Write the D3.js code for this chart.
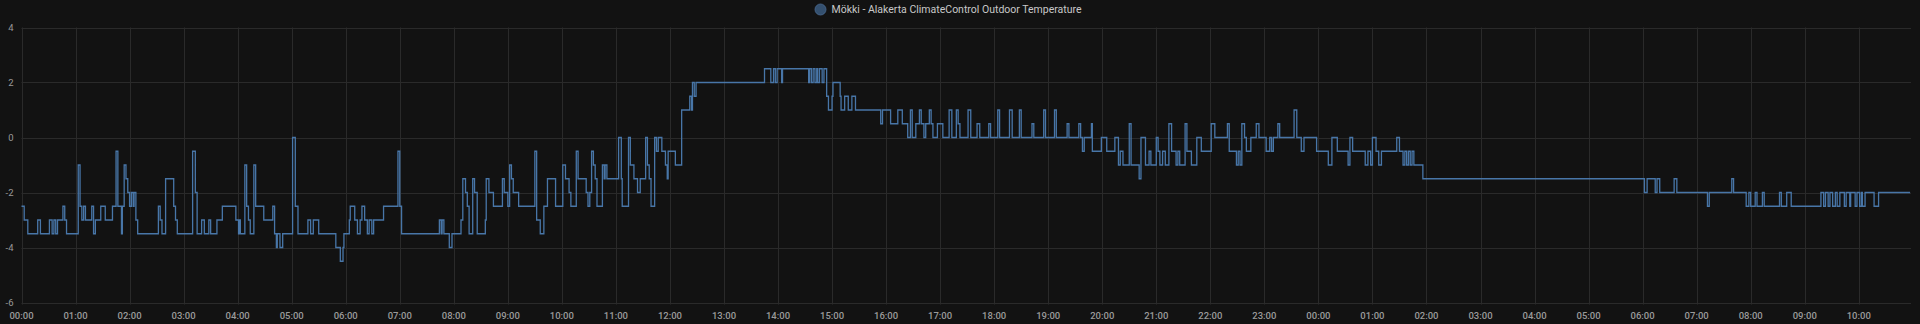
<!DOCTYPE html>
<html>
<head>
<meta charset="utf-8">
<script src="https://cdn.jsdelivr.net/npm/d3@7"></script>
<style>
  html, body { margin: 0; padding: 0; background: #121212; }
  svg { display: block; }
</style>
</head>
<body>
<svg id="chart" width="1920" height="324"></svg>
<script>
// Series title
const seriesName = "Mökki - Alakerta ClimateControl Outdoor Temperature";

// Breakpoints: minutes since 00:00 of the first day, and the temperature (°C) from that moment on
const minutes = [
  0,3,7,18,21,31,34,36,38,40,46,48,50,63,65,67,69,71,78,80,82,88,93,101,105,107,111,112,114,116,118,120,122,124,125,127,129,
  152,154,156,160,169,171,173,190,193,195,200,203,208,210,217,223,238,241,242,243,248,250,252,254,258,260,269,279,281,283,284,287,290,
  301,304,307,318,321,324,330,349,354,357,358,364,365,370,373,376,378,381,384,386,389,391,402,
  418,420,422,464,466,467,469,475,478,488,490,493,495,497,501,503,506,515,516,519,524,534,536,540,542,544,546,552,570,572,576,580,584,
  593,601,604,608,610,616,618,627,629,631,633,635,637,639,645,647,648,650,
  663,666,667,674,676,680,684,687,693,695,697,699,703,705,707,711,715,717,718,726,733,742,744,745,747,749,
  825,832,835,837,839,844,845,874,875,877,879,881,883,884,886,889,891,894,896,900,901,909,910,914,918,922,926,954,956,965,973,978,984,
  987,989,993,997,999,1002,1004,1008,1010,1012,1017,1023,1030,1033,1038,1040,1042,1051,1054,1061,1064,1074,1076,1084,1086,1097,1100,
  1108,1110,1122,1124,1135,1137,1147,1149,1161,1163,1174,1176,1178,1180,1188,1189,1199,1205,1214,1218,1220,1223,1230,1232,1241,1243,1248,
  1252,1254,1260,1262,1264,1267,1270,1274,1277,1282,1284,1286,1292,1294,1299,1305,1310,1321,1325,1339,1341,1349,1351,1353,1355,1358,
  1360,1365,1371,1374,1382,1386,1388,1390,1395,1397,1413,1416,1421,1424,1438,1451,1455,1461,1473,1475,1478,1492,1495,1498,1500,1504,
  1507,1510,1527,1530,1534,1536,1538,1540,1542,1544,1546,1556,
  1802,1805,1814,1816,1819,1835,1838,1872,1874,1899,1901,1915,1918,1920,1925,1927,1933,1935,1952,1954,1960,1965,1998,2001,2003,2006,
  2008,2011,2014,2016,2019,2024,2026,2030,2031,2036,2038,2041,2043,2044,2047,2057,2062,2097
];
const temps = [
  -2.5,-3,-3.5,-3,-3.5,-3,-3.5,-3,-3.5,-3,-2.5,-3,-3.5,-1,-2.5,-3,-2.5,-3,-2.5,-3.5,-3,-2.5,-3,-2.5,-0.5,-2.5,-3.5,-2.5,-1,-1.5,-2,-2.5,-2,-2.5,-2,-3,-3.5,
  -2.5,-3,-3.5,-1.5,-2.5,-3,-3.5,-0.5,-2,-3.5,-3,-3.5,-3,-3.5,-3,-2.5,-3,-3.5,-3,-3.5,-1,-2.5,-3,-3.5,-1,-2.5,-3,-2.5,-3.5,-4,-3.5,-4,-3.5,
  0,-2.5,-3.5,-3,-3.5,-3,-3.5,-4,-4.5,-4,-3.5,-3,-2.5,-3,-3.5,-3,-2.5,-3,-3.5,-3,-3.5,-3,-2.5,
  -0.5,-2.5,-3.5,-3,-3.5,-3,-3.5,-4,-3.5,-3,-1.5,-2,-2.5,-3.5,-1.5,-2,-3.5,-3,-1.5,-2,-2.5,-1.5,-2,-2.5,-1,-1.5,-2,-2.5,-0.5,-3,-3.5,-2.5,-1.5,
  -2.5,-1,-1.5,-2,-2.5,-0.5,-1.5,-2,-2.5,-2,-0.5,-1,-1.5,-2.5,-1,-1.5,-1,-1.5,
  0,-1.5,-2.5,0,-1,-1.5,-2,-1.5,0,-1,-1.5,-2.5,0,-0.5,0,-0.5,-1,-1.5,-0.5,-1,1,1.5,1,2,1.5,2,
  2.5,2,2.5,2,2.5,2,2.5,2,2.5,2,2.5,2,2.5,2,2.5,2,2.5,1.5,1,1.5,2,1.5,1,1.5,1,1.5,1,0.5,1,0.5,1,0.5,0,
  1,0,0.5,1,0.5,0,0.5,1,0.5,0,0.5,0,1,0,1,0.5,0,1,0,0.5,0,0.5,0,1,0,1,0,
  1,0,0.5,0,1,0,1,0,0.5,0,0.5,0,-0.5,0,0.5,-0.5,0,-0.5,0,-1,-0.5,-1,0.5,-1,-1.5,0,-1,
  -0.5,-1,0,-0.5,-1,-0.5,-1,0.5,-0.5,-1,-0.5,-1,0.5,-0.5,-1,0,-0.5,0.5,0,0.5,-0.5,-1,-0.5,-1,0.5,0,
  -0.5,0,0.5,0,-0.5,0,-0.5,0,0.5,0,1,0,-0.5,0,-0.5,-1,0,-0.5,-1,0,-0.5,-1,-0.5,-1,0,-0.5,
  -1,-0.5,0,-0.5,-1,-0.5,-1,-0.5,-1,-0.5,-1,-1.5,
  -2,-1.5,-2,-1.5,-2,-1.5,-2,-2.5,-2,-1.5,-2,-2.5,-2,-2.5,-2,-2.5,-2,-2.5,-2,-2.5,-2,-2.5,-2,-2.5,-2,-2.5,
  -2,-2.5,-2,-2.5,-2,-2.5,-2,-2.5,-2,-2.5,-2,-2.5,-2,-2.5,-2,-2.5,-2,-2
];
const yTicks = [-6, -4, -2, 0, 2, 4];

const start = new Date(2021, 0, 1, 0, 0);
const data = minutes.map((m, i) => ({ t: new Date(start.getTime() + m * 60000), v: temps[i] }));

const svg = d3.select("#chart");
const W = 1920, H = 324;
svg.append("rect").attr("width", W).attr("height", H).attr("fill", "#121212");

const mLeft = 21.5, mRight = 1911, mTop = 27.5, mBottom = 302.5;
const endTime = new Date(start.getTime() + 2098 * 60000);
const x = d3.scaleTime().domain([start, endTime]).range([mLeft, mRight]);
const y = d3.scaleLinear().domain([-6, 4]).range([mBottom, mTop]);

const grid = svg.append("g");
grid.selectAll("line.h").data(yTicks).join("line")
  .attr("x1", mLeft).attr("x2", mRight)
  .attr("y1", d => Math.round(y(d)) + 0.5).attr("y2", d => Math.round(y(d)) + 0.5)
  .attr("stroke", "#2a2a2a").attr("stroke-width", 1);
const xTicks = x.ticks(d3.timeHour.every(1));
grid.selectAll("line.v").data(xTicks).join("line")
  .attr("x1", d => Math.round(x(d)) + 0.5).attr("x2", d => Math.round(x(d)) + 0.5)
  .attr("y1", mTop).attr("y2", mBottom + 2)
  .attr("stroke", "#2a2a2a").attr("stroke-width", 1);

svg.append("g").selectAll("text").data(yTicks).join("text")
  .attr("x", 13.5).attr("y", d => y(d))
  .attr("text-anchor", "end").attr("dominant-baseline", "central")
  .attr("font-family", "Roboto, sans-serif").attr("font-size", 9.5)
  .attr("fill", "#9a9a9a")
  .text(d => d);

const fmt = d3.timeFormat("%H:%M");
svg.append("g").selectAll("text").data(xTicks).join("text")
  .attr("x", d => x(d)).attr("y", 315.5)
  .attr("text-anchor", "middle").attr("dominant-baseline", "central")
  .attr("font-family", "Roboto, sans-serif").attr("font-size", 9.5).attr("font-weight", 500)
  .attr("fill", "#9a9a9a")
  .text(d => fmt(d));

const line = d3.line().x(d => x(d.t)).y(d => y(d.v)).curve(d3.curveStepAfter);
svg.append("path").datum(data)
  .attr("d", line)
  .attr("fill", "none")
  .attr("stroke", "#4876a8")
  .attr("stroke-width", 1.3);

const lg = svg.append("g");
lg.append("circle").attr("cx", 820.5).attr("cy", 9.5).attr("r", 5.5)
  .attr("fill", "#34506f").attr("stroke", "#4a6a90").attr("stroke-width", 0.8);
lg.append("text").attr("x", 831.5).attr("y", 9.5)
  .attr("dominant-baseline", "central")
  .attr("font-family", "Roboto, sans-serif").attr("font-size", 10.5)
  .attr("fill", "#c8c8c8")
  .text(seriesName);
</script>
</body>
</html>
